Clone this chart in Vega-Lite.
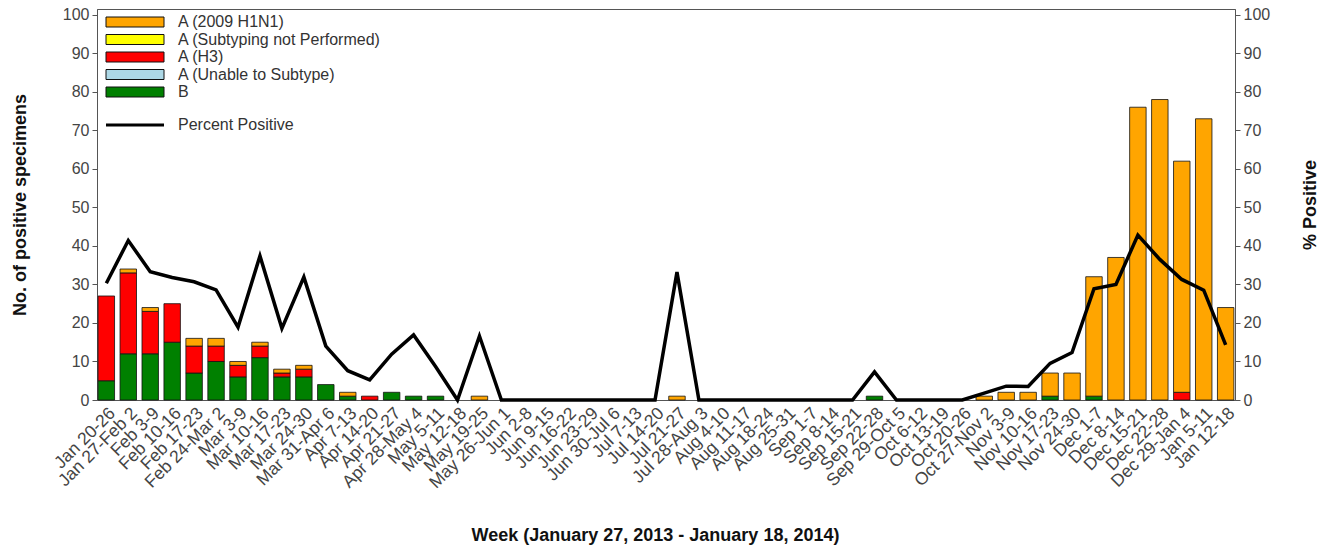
{
  "$schema": "https://vega.github.io/schema/vega-lite/v6.json",
  "width": 1138,
  "height": 391,
  "autosize": {"type": "none"},
  "padding": {"left": 97, "top": 9, "right": 88, "bottom": 147},
  "background": "white",
  "config": {
    "font": "Liberation Sans",
    "view": {"stroke": "#555", "strokeWidth": 1},
    "axis": {
      "grid": false,
      "labelFont": "Liberation Sans",
      "labelFontSize": 16,
      "labelColor": "#444",
      "tickColor": "#555",
      "domainColor": "#555",
      "tickSize": 5,
      "labelPadding": 3,
      "titleFont": "Liberation Sans",
      "titleFontSize": 18,
      "titleFontWeight": "bold",
      "titleColor": "#111"
    },
    "legend": {
      "labelFont": "Liberation Sans",
      "labelFontSize": 16,
      "labelColor": "#333",
      "labelLimit": 0
    }
  },
  "datasets": {
    "counts": [
      {"week": "Jan 20-26", "type": "B", "count": 5},
      {"week": "Jan 20-26", "type": "A (H3)", "count": 22},
      {"week": "Jan 27-Feb 2", "type": "B", "count": 12},
      {"week": "Jan 27-Feb 2", "type": "A (H3)", "count": 21},
      {"week": "Jan 27-Feb 2", "type": "A (2009 H1N1)", "count": 1},
      {"week": "Feb 3-9", "type": "B", "count": 12},
      {"week": "Feb 3-9", "type": "A (H3)", "count": 11},
      {"week": "Feb 3-9", "type": "A (2009 H1N1)", "count": 1},
      {"week": "Feb 10-16", "type": "B", "count": 15},
      {"week": "Feb 10-16", "type": "A (H3)", "count": 10},
      {"week": "Feb 17-23", "type": "B", "count": 7},
      {"week": "Feb 17-23", "type": "A (H3)", "count": 7},
      {"week": "Feb 17-23", "type": "A (2009 H1N1)", "count": 2},
      {"week": "Feb 24-Mar 2", "type": "B", "count": 10},
      {"week": "Feb 24-Mar 2", "type": "A (H3)", "count": 4},
      {"week": "Feb 24-Mar 2", "type": "A (2009 H1N1)", "count": 2},
      {"week": "Mar 3-9", "type": "B", "count": 6},
      {"week": "Mar 3-9", "type": "A (H3)", "count": 3},
      {"week": "Mar 3-9", "type": "A (2009 H1N1)", "count": 1},
      {"week": "Mar 10-16", "type": "B", "count": 11},
      {"week": "Mar 10-16", "type": "A (H3)", "count": 3},
      {"week": "Mar 10-16", "type": "A (2009 H1N1)", "count": 1},
      {"week": "Mar 17-23", "type": "B", "count": 6},
      {"week": "Mar 17-23", "type": "A (H3)", "count": 1},
      {"week": "Mar 17-23", "type": "A (2009 H1N1)", "count": 1},
      {"week": "Mar 24-30", "type": "B", "count": 6},
      {"week": "Mar 24-30", "type": "A (H3)", "count": 2},
      {"week": "Mar 24-30", "type": "A (2009 H1N1)", "count": 1},
      {"week": "Mar 31-Apr 6", "type": "B", "count": 4},
      {"week": "Apr 7-13", "type": "B", "count": 1},
      {"week": "Apr 7-13", "type": "A (2009 H1N1)", "count": 1},
      {"week": "Apr 14-20", "type": "A (H3)", "count": 1},
      {"week": "Apr 21-27", "type": "B", "count": 2},
      {"week": "Apr 28-May 4", "type": "B", "count": 1},
      {"week": "May 5-11", "type": "B", "count": 1},
      {"week": "May 19-25", "type": "A (2009 H1N1)", "count": 1},
      {"week": "Jul 21-27", "type": "A (2009 H1N1)", "count": 1},
      {"week": "Sep 22-28", "type": "B", "count": 1},
      {"week": "Oct 27-Nov 2", "type": "A (2009 H1N1)", "count": 1},
      {"week": "Nov 3-9", "type": "A (2009 H1N1)", "count": 2},
      {"week": "Nov 10-16", "type": "A (2009 H1N1)", "count": 2},
      {"week": "Nov 17-23", "type": "B", "count": 1},
      {"week": "Nov 17-23", "type": "A (2009 H1N1)", "count": 6},
      {"week": "Nov 24-30", "type": "A (2009 H1N1)", "count": 7},
      {"week": "Dec 1-7", "type": "B", "count": 1},
      {"week": "Dec 1-7", "type": "A (2009 H1N1)", "count": 31},
      {"week": "Dec 8-14", "type": "A (2009 H1N1)", "count": 37},
      {"week": "Dec 15-21", "type": "A (2009 H1N1)", "count": 76},
      {"week": "Dec 22-28", "type": "A (2009 H1N1)", "count": 78},
      {"week": "Dec 29-Jan 4", "type": "A (H3)", "count": 2},
      {"week": "Dec 29-Jan 4", "type": "A (2009 H1N1)", "count": 60},
      {"week": "Jan 5-11", "type": "A (2009 H1N1)", "count": 73},
      {"week": "Jan 12-18", "type": "A (2009 H1N1)", "count": 24}
    ],
    "pct": [
      {"week": "Jan 20-26", "pct": 30.3},
      {"week": "Jan 27-Feb 2", "pct": 41.4},
      {"week": "Feb 3-9", "pct": 33.3},
      {"week": "Feb 10-16", "pct": 31.8},
      {"week": "Feb 17-23", "pct": 30.7},
      {"week": "Feb 24-Mar 2", "pct": 28.6},
      {"week": "Mar 3-9", "pct": 18.9},
      {"week": "Mar 10-16", "pct": 37.4},
      {"week": "Mar 17-23", "pct": 18.6},
      {"week": "Mar 24-30", "pct": 31.9},
      {"week": "Mar 31-Apr 6", "pct": 14.0},
      {"week": "Apr 7-13", "pct": 7.6},
      {"week": "Apr 14-20", "pct": 5.2},
      {"week": "Apr 21-27", "pct": 11.9},
      {"week": "Apr 28-May 4", "pct": 16.9},
      {"week": "May 5-11", "pct": 8.7},
      {"week": "May 12-18", "pct": 0},
      {"week": "May 19-25", "pct": 16.6},
      {"week": "May 26-Jun 1", "pct": 0},
      {"week": "Jun 2-8", "pct": 0},
      {"week": "Jun 9-15", "pct": 0},
      {"week": "Jun 16-22", "pct": 0},
      {"week": "Jun 23-29", "pct": 0},
      {"week": "Jun 30-Jul 6", "pct": 0},
      {"week": "Jul 7-13", "pct": 0},
      {"week": "Jul 14-20", "pct": 0},
      {"week": "Jul 21-27", "pct": 33.2},
      {"week": "Jul 28-Aug 3", "pct": 0},
      {"week": "Aug 4-10", "pct": 0},
      {"week": "Aug 11-17", "pct": 0},
      {"week": "Aug 18-24", "pct": 0},
      {"week": "Aug 25-31", "pct": 0},
      {"week": "Sep 1-7", "pct": 0},
      {"week": "Sep 8-14", "pct": 0},
      {"week": "Sep 15-21", "pct": 0},
      {"week": "Sep 22-28", "pct": 7.3},
      {"week": "Sep 29-Oct 5", "pct": 0},
      {"week": "Oct 6-12", "pct": 0},
      {"week": "Oct 13-19", "pct": 0},
      {"week": "Oct 20-26", "pct": 0},
      {"week": "Oct 27-Nov 2", "pct": 1.8},
      {"week": "Nov 3-9", "pct": 3.6},
      {"week": "Nov 10-16", "pct": 3.5},
      {"week": "Nov 17-23", "pct": 9.5},
      {"week": "Nov 24-30", "pct": 12.3},
      {"week": "Dec 1-7", "pct": 28.9},
      {"week": "Dec 8-14", "pct": 30.0},
      {"week": "Dec 15-21", "pct": 42.8},
      {"week": "Dec 22-28", "pct": 36.5},
      {"week": "Dec 29-Jan 4", "pct": 31.3},
      {"week": "Jan 5-11", "pct": 28.5},
      {"week": "Jan 12-18", "pct": 14.3}
    ]
  },
  "encoding": {
    "x": {
      "field": "week",
      "type": "nominal",
      "sort": null,
      "scale": {
        "domain": ["Jan 20-26", "Jan 27-Feb 2", "Feb 3-9", "Feb 10-16", "Feb 17-23", "Feb 24-Mar 2", "Mar 3-9", "Mar 10-16", "Mar 17-23", "Mar 24-30", "Mar 31-Apr 6", "Apr 7-13", "Apr 14-20", "Apr 21-27", "Apr 28-May 4", "May 5-11", "May 12-18", "May 19-25", "May 26-Jun 1", "Jun 2-8", "Jun 9-15", "Jun 16-22", "Jun 23-29", "Jun 30-Jul 6", "Jul 7-13", "Jul 14-20", "Jul 21-27", "Jul 28-Aug 3", "Aug 4-10", "Aug 11-17", "Aug 18-24", "Aug 25-31", "Sep 1-7", "Sep 8-14", "Sep 15-21", "Sep 22-28", "Sep 29-Oct 5", "Oct 6-12", "Oct 13-19", "Oct 20-26", "Oct 27-Nov 2", "Nov 3-9", "Nov 10-16", "Nov 17-23", "Nov 24-30", "Dec 1-7", "Dec 8-14", "Dec 15-21", "Dec 22-28", "Dec 29-Jan 4", "Jan 5-11", "Jan 12-18"],
        "paddingInner": 0.25,
        "paddingOuter": 0.05
      },
      "axis": {
        "title": "Week (January 27, 2013 - January 18, 2014)",
        "labelAngle": -45,
        "labelFontSize": 17.5,
        "ticks": false,
        "labelPadding": 4,
        "titleY": 135,
        "titleX": 558,
        "titleBaseline": "middle"
      }
    }
  },
  "layer": [
    {
      "data": {"name": "counts"},
      "mark": {"type": "bar", "stroke": "#111", "strokeWidth": 0.8},
      "encoding": {
        "y": {
          "field": "count",
          "type": "quantitative",
          "stack": "zero",
          "scale": {"domain": [0, 101.5], "nice": false},
          "axis": {
            "orient": "left",
            "title": "No. of positive specimens",
            "values": [0, 10, 20, 30, 40, 50, 60, 70, 80, 90, 100],
            "titleX": -77,
            "titleBaseline": "middle"
          }
        },
        "color": {
          "field": "type",
          "type": "nominal",
          "scale": {
            "domain": ["A (2009 H1N1)", "A (Subtyping not Performed)", "A (H3)", "A (Unable to Subtype)", "B"],
            "range": ["#FFA500", "#FFFF00", "#FF0000", "#ADD8E6", "#008000"]
          },
          "legend": {
            "title": null,
            "orient": "none",
            "legendX": 30,
            "legendY": 5,
            "padding": 0,
            "symbolType": "M-5.8,-1H5.8V1H-5.8Z",
            "symbolSize": 100,
            "symbolStrokeColor": "#111",
            "symbolStrokeWidth": 1,
            "symbolOpacity": 1,
            "labelOffset": 35,
            "labelLimit": 0,
            "rowPadding": 1.5
          }
        },
        "order": {"field": "type", "sort": "descending"}
      }
    },
    {
      "data": {"name": "pct"},
      "mark": {"type": "line", "strokeWidth": 3.5, "strokeJoin": "miter"},
      "encoding": {
        "y": {
          "field": "pct",
          "type": "quantitative",
          "scale": {"domain": [0, 101.5], "nice": false},
          "axis": {
            "orient": "right",
            "title": "% Positive",
            "values": [0, 10, 20, 30, 40, 50, 60, 70, 80, 90, 100],
            "titleAngle": 270,
            "titleX": 75,
            "titleBaseline": "middle"
          }
        },
        "stroke": {
          "datum": "Percent Positive",
          "type": "nominal",
          "scale": {"domain": ["Percent Positive"], "range": ["#000000"]},
          "legend": {
            "title": null,
            "orient": "none",
            "legendX": 30,
            "legendY": 108,
            "padding": 0,
            "symbolType": "M-5.8,0H5.8",
            "symbolSize": 100,
            "symbolStrokeWidth": 3,
            "labelOffset": 35
          }
        }
      }
    }
  ],
  "resolve": {"scale": {"y": "independent", "stroke": "independent", "color": "independent"}}
}
